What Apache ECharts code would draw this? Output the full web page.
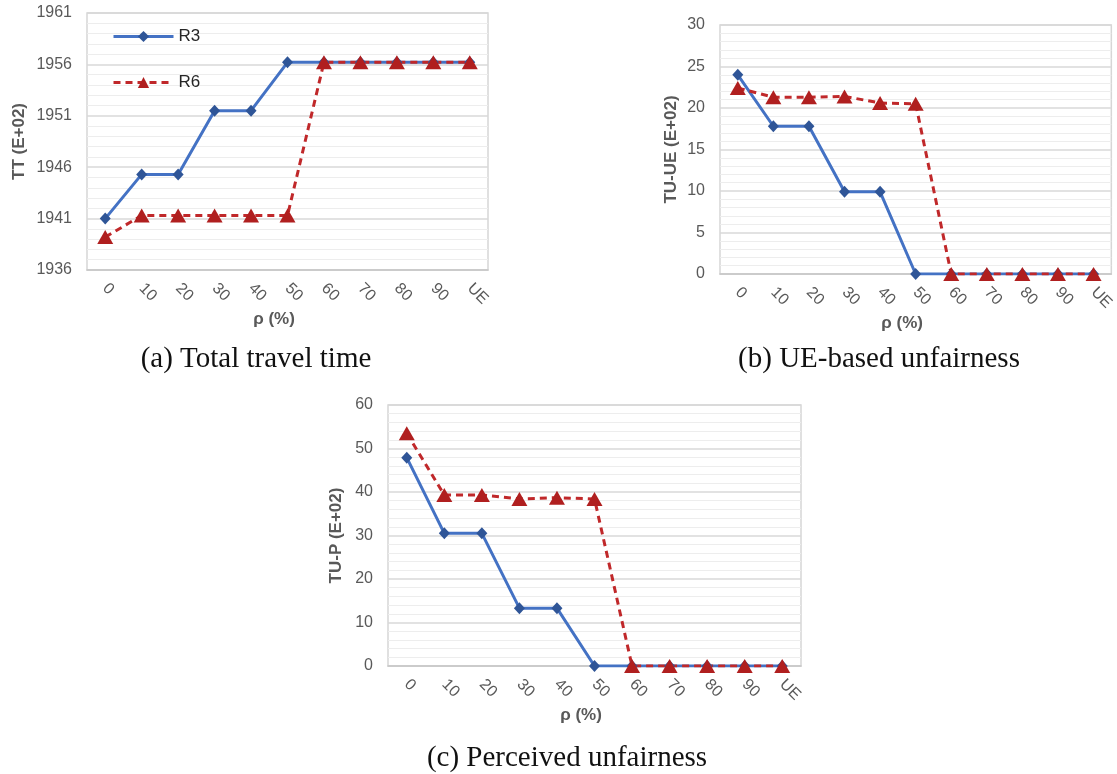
<!DOCTYPE html>
<html>
<head>
<meta charset="utf-8">
<script src="https://cdn.jsdelivr.net/npm/echarts@6/dist/echarts.min.js"></script>
<style>
  html, body { margin: 0; padding: 0; background: #fff; }
  #chart { width: 1117px; height: 774px; }
</style>
</head>
<body>
<div id="chart"></div>
<script>
// categories (rho %)
var categories = ["0", "10", "20", "30", "40", "50", "60", "70", "80", "90", "UE"];

// (a) total travel time, E+02
var ttR3 = [1941.0, 1945.3, 1945.3, 1951.5, 1951.5, 1956.2, 1956.2, 1956.2, 1956.2, 1956.2, 1956.2];
var ttR6 = [1939.2, 1941.3, 1941.3, 1941.3, 1941.3, 1941.3, 1956.2, 1956.2, 1956.2, 1956.2, 1956.2];

// (b) UE-based unfairness, E+02
var tuueR3 = [24.0, 17.8, 17.8, 9.9, 9.9, 0, 0, 0, 0, 0, 0];
var tuueR6 = [22.4, 21.3, 21.3, 21.4, 20.6, 20.5, 0, 0, 0, 0, 0];

// (c) perceived unfairness, E+02
var tupR3 = [47.9, 30.5, 30.5, 13.3, 13.3, 0, 0, 0, 0, 0, 0];
var tupR6 = [53.5, 39.3, 39.3, 38.4, 38.7, 38.4, 0, 0, 0, 0, 0];

var captions = ["(a) Total travel time", "(b) UE-based unfairness", "(c) Perceived unfairness"];

var sansFont = "Liberation Sans, Arial, sans-serif";
var capFont = "29px 'Liberation Serif', serif";
var blue = "#4472C4", blueMark = "#2F5597";
var red = "#C0282A", redMark = "#B01F1F";

var chart = echarts.init(document.getElementById("chart"));

function xAxis(gi, gap) {
  return {
    type: "category",
    gridIndex: gi,
    data: categories,
    boundaryGap: true,
    axisTick: { show: false },
    axisLine: { lineStyle: { color: "#c6c6c6", width: 1.5 } },
    axisLabel: { rotate: -45, color: "#595959", fontSize: 16, fontFamily: sansFont, margin: 16 },
    name: "ρ (%)",
    nameLocation: "middle",
    nameGap: gap,
    nameTextStyle: { color: "#595959", fontSize: 17, fontWeight: "bold", fontFamily: sansFont, padding: [0, 27, 0, 0] }
  };
}

function yAxis(gi, name, min, max, interval, gap) {
  return {
    type: "value",
    gridIndex: gi,
    min: min,
    max: max,
    interval: interval,
    name: name,
    nameLocation: "middle",
    nameGap: gap,
    nameTextStyle: { color: "#595959", fontSize: 17, fontWeight: "bold", fontFamily: sansFont },
    axisLine: { show: false },
    axisTick: { show: false },
    axisLabel: {
      color: "#595959", fontSize: 16, fontFamily: sansFont, margin: 15,
      formatter: function (v) { return String(v); }
    },
    splitLine: { lineStyle: { color: "#d9d9d9", width: 1.5 } },
    minorTick: { show: false, splitNumber: 5 },
    minorSplitLine: { show: true, lineStyle: { color: "#ededed", width: 1 } }
  };
}

function r3(gi, data) {
  return {
    name: "R3", type: "line", xAxisIndex: gi, yAxisIndex: gi, data: data,
    symbol: "diamond", symbolSize: [11, 12],
    lineStyle: { color: blue, width: 3 },
    itemStyle: { color: blueMark },
    animation: false
  };
}

function r6(gi, data) {
  return {
    name: "R6", type: "line", xAxisIndex: gi, yAxisIndex: gi, data: data,
    symbol: "triangle", symbolSize: [16, 14],
    lineStyle: { color: red, width: 3, type: [7, 5] },
    itemStyle: { color: redMark },
    animation: false
  };
}

var gridStyle = { show: true, borderColor: "#d6d6d6", borderWidth: 1.5, backgroundColor: "#fff" };

var option = {
  backgroundColor: "#fff",
  animation: false,
  grid: [
    Object.assign({ left: 87, top: 13, width: 401, height: 257 }, gridStyle),
    Object.assign({ left: 720, top: 25, width: 392, height: 249 }, gridStyle),
    Object.assign({ left: 388, top: 405, width: 413, height: 261 }, gridStyle)
  ],
  legend: {
    data: ["R3", "R6"],
    orient: "vertical",
    left: 107,
    top: 23,
    itemWidth: 60,
    itemHeight: 14,
    itemGap: 29,
    lineStyle: { width: 3 },
    textStyle: { color: "#262626", fontSize: 17, fontFamily: sansFont }
  },
  xAxis: [xAxis(0, 39), xAxis(1, 35), xAxis(2, 40)],
  yAxis: [
    yAxis(0, "TT (E+02)", 1936, 1961, 5, 59),
    yAxis(1, "TU-UE (E+02)", 0, 30, 5, 40),
    yAxis(2, "TU-P (E+02)", 0, 60, 10, 43)
  ],
  series: [
    r3(0, ttR3), r6(0, ttR6),
    r3(1, tuueR3), r6(1, tuueR6),
    r3(2, tupR3), r6(2, tupR6)
  ],
  graphic: [
    { type: "text", x: 256, y: 359, style: { text: captions[0], textAlign: "center", textVerticalAlign: "middle", font: capFont, fill: "#111" } },
    { type: "text", x: 879, y: 359, style: { text: captions[1], textAlign: "center", textVerticalAlign: "middle", font: capFont, fill: "#111" } },
    { type: "text", x: 567, y: 758, style: { text: captions[2], textAlign: "center", textVerticalAlign: "middle", font: capFont, fill: "#111" } }
  ]
};

option && chart.setOption(option);
</script>
</body>
</html>
